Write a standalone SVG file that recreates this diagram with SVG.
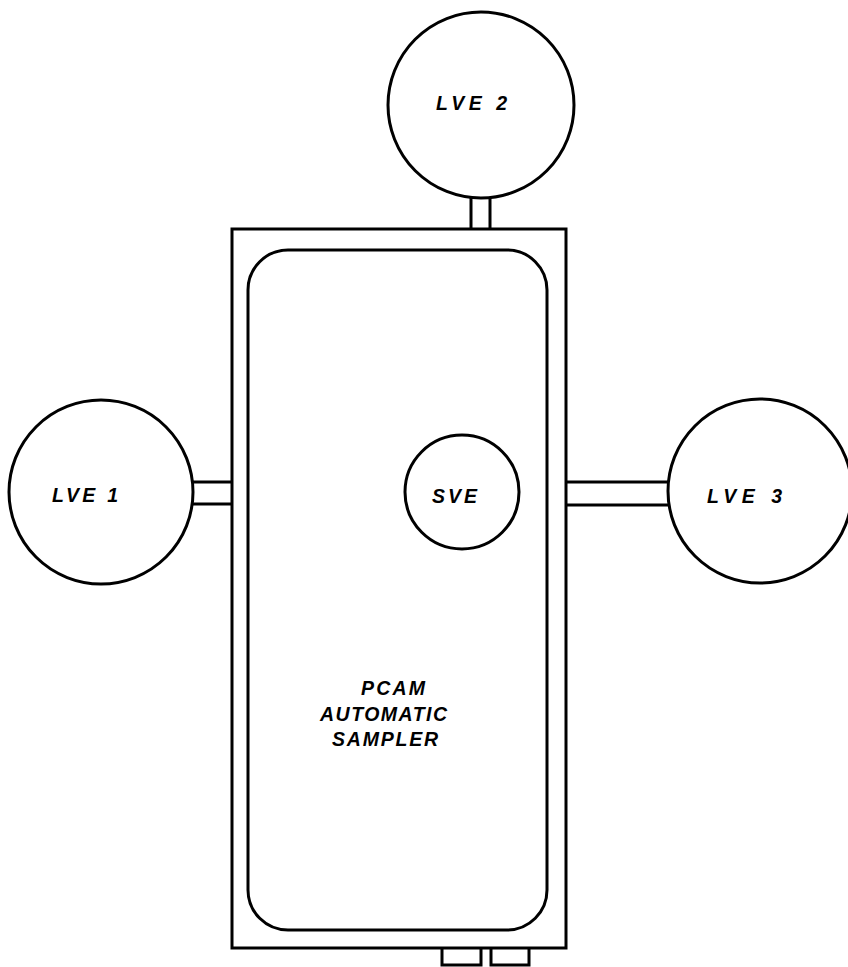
<svg xmlns="http://www.w3.org/2000/svg" width="848" height="967" viewBox="0 0 848 967">
<style>
.s{fill:none;stroke:#000;stroke-width:3}
.c{fill:#fff;stroke:#000;stroke-width:3}
text{font-family:"Liberation Sans",Arial,sans-serif;font-style:italic;font-weight:bold;font-size:19.5px;fill:#000}
</style>
<rect width="848" height="967" fill="#fff"/>
<g id="connectors">
<path class="s" d="M471 196V229M490 196V229M191 482H232M191 504H232M566 482H670M566 505H670M442 948V965H481V948M491 948V965H529V948"/>
</g>
<g id="sampler"><rect class="s" x="232" y="229" width="334" height="719"/><rect class="s" x="248" y="250" width="299" height="680" rx="40"/>
<text x="361" y="695" textLength="64">PCAM</text><text x="320" y="721" textLength="127">AUTOMATIC</text><text x="332" y="746" textLength="106">SAMPLER</text></g>
<g id="lve1"><circle class="c" cx="101" cy="492" r="92"/><text x="52" y="502" textLength="66">LVE 1</text></g>
<g id="lve2"><circle class="c" cx="481" cy="105" r="93"/><text x="436" y="110" textLength="71">LVE 2</text></g>
<g id="lve3"><circle class="c" cx="760" cy="491" r="92"/><text x="707" y="503" textLength="75">LVE 3</text></g>
<g id="sve"><circle class="c" cx="462" cy="492" r="57"/><text x="432" y="503" textLength="45">SVE</text></g>
</svg>
